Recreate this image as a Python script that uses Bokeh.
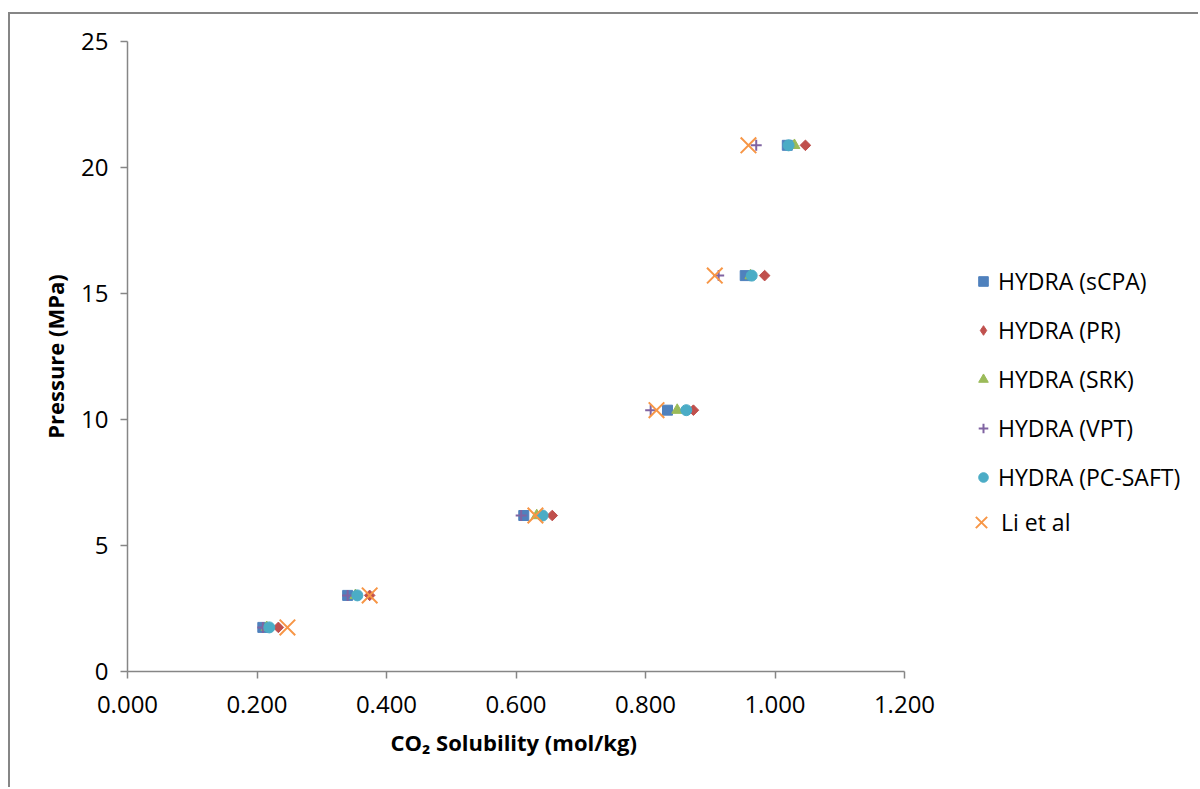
import math
from bokeh.plotting import figure
from bokeh.models import Legend, LegendItem, Range1d, FixedTicker, CustomJSTickFormatter, Title
from bokeh.embed import file_html
from bokeh.resources import INLINE

# CO2 solubility (mol/kg) at each pressure (MPa)
pressure = [1.75, 3.02, 6.19, 10.37, 15.71, 20.88]
scpa = [0.209, 0.340, 0.612, 0.834, 0.954, 1.019]
pr = [0.233, 0.374, 0.656, 0.874, 0.984, 1.047]
srk = [0.215, 0.352, 0.632, 0.849, 0.962, 1.030]
vpt = [0.209, 0.340, 0.608, 0.808, 0.913, 0.971]
pcsaft = [0.219, 0.355, 0.641, 0.863, 0.964, 1.021]
li = [0.247, 0.374, 0.630, 0.817, 0.907, 0.959]

x_ticks = [0.0, 0.2, 0.4, 0.6, 0.8, 1.0, 1.2]
y_ticks = [0, 5, 10, 15, 20, 25]

FONT = "Open Sans"
AXIS_GREY = "#868686"

# canvas geometry: the axis spans 777 px, the remaining frame width hosts the legend
W, H = 1190, 775
LEFT, TOP, BOTTOM = 117, 27, 118
AXIS_PX = 777
x_end = 1.2 * (W - LEFT) / AXIS_PX

p = figure(width=W, height=H, output_backend="svg", toolbar_location=None,
           x_range=Range1d(0, x_end), y_range=Range1d(0, 25),
           min_border_left=LEFT, min_border_right=0, min_border_top=TOP,
           min_border_bottom=BOTTOM, margin=(12, 0, 0, 8))
p.styles = {"border-left": "2px solid #868686", "border-top": "2px solid #868686"}
p.outline_line_color = None
p.xgrid.visible = False
p.ygrid.visible = False
p.background_fill_color = "white"
p.border_fill_color = "white"

for ax in (p.xaxis[0], p.yaxis[0]):
    ax.axis_line_color = AXIS_GREY
    ax.axis_line_width = 1.5
    ax.major_tick_line_color = AXIS_GREY
    ax.major_tick_line_width = 1.5
    ax.major_tick_in = 0
    ax.major_tick_out = 7
    ax.minor_tick_line_color = None
    ax.major_label_text_font = FONT
    ax.major_label_text_font_size = "24px"
    ax.major_label_text_color = "black"
    ax.axis_label_text_font = FONT
    ax.axis_label_text_font_size = "22px"
    ax.axis_label_text_font_style = "bold"
    ax.axis_label_text_color = "black"

p.xaxis.bounds = (0, 1.2)
p.xaxis.ticker = FixedTicker(ticks=x_ticks)
p.xaxis.formatter = CustomJSTickFormatter(code="return tick.toFixed(3);")
p.xaxis.major_label_standoff = 17

# x title sits under the bounded axis span rather than the full frame
x_title = Title(text="CO\u2082 Solubility (mol/kg)", align="left", offset=263,
                text_font=FONT, text_font_size="22px", text_font_style="bold",
                text_color="black", standoff=18)
p.add_layout(x_title, "below")

p.yaxis.ticker = FixedTicker(ticks=y_ticks)
p.yaxis.major_label_standoff = 12
p.yaxis.axis_label = "Pressure (MPa)"
p.yaxis.axis_label_standoff = 8

r_scpa = p.scatter(scpa, pressure, marker="square", size=10,
                   fill_color="#4F81BD", line_color="#4F81BD")
r_pr = p.scatter(pr, pressure, marker="square", size=7.5, angle=math.pi / 4,
                 fill_color="#C0504D", line_color="#C0504D")
# zero-size twin of the PR series, so its legend swatch is a diamond
r_pr_key = p.scatter(pr, pressure, marker="diamond", size=0,
                     fill_color="#C0504D", line_color="#C0504D")
r_srk = p.scatter(srk, pressure, marker="triangle", size=11,
                  fill_color="#9BBB59", line_color="#9BBB59")
r_vpt = p.scatter(vpt, pressure, marker="cross", size=11,
                  line_color="#8064A2", line_width=2)
r_pcs = p.scatter(pcsaft, pressure, marker="circle", size=11,
                  fill_color="#4BACC6", line_color="#4BACC6")
r_li = p.scatter(li, pressure, marker="x", size=22,
                 line_color="#F79646", line_width=2)


def style_legend(lg):
    lg.border_line_color = None
    lg.background_fill_alpha = 0
    lg.label_text_font = FONT
    lg.label_text_font_size = "23px"
    lg.label_text_color = "black"
    lg.padding = 0
    lg.margin = 0


# model entries
legend_models = Legend(items=[
    LegendItem(label="HYDRA (sCPA)", renderers=[r_scpa]),
    LegendItem(label="HYDRA (PR)", renderers=[r_pr_key]),
    LegendItem(label="HYDRA (SRK)", renderers=[r_srk]),
    LegendItem(label="HYDRA (VPT)", renderers=[r_vpt]),
    LegendItem(label="HYDRA (PC-SAFT)", renderers=[r_pcs]),
], location=(844, 178))
style_legend(legend_models)
legend_models.glyph_width = 24
legend_models.glyph_height = 24
legend_models.label_height = 24
legend_models.spacing = 17
legend_models.label_standoff = 3

# experimental entry, with a larger marker box
legend_exp = Legend(items=[
    LegendItem(label="Li et al", renderers=[r_li]),
], location=(834, 129))
style_legend(legend_exp)
legend_exp.glyph_width = 40
legend_exp.glyph_height = 40
legend_exp.label_height = 24
legend_exp.label_standoff = 0

p.add_layout(legend_models, "center")
p.add_layout(legend_exp, "center")

open("out.html", "w").write(file_html(p, INLINE))
